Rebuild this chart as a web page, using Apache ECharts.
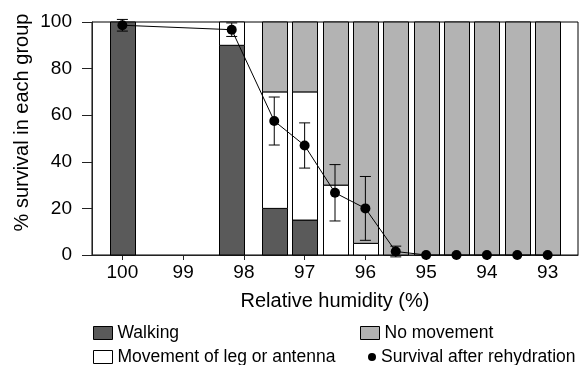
<!DOCTYPE html>
<html><head><meta charset="utf-8">
<script src="https://cdn.jsdelivr.net/npm/echarts@6/dist/echarts.min.js"></script>
<style>html,body{margin:0;padding:0;background:#fff}#c{width:583px;height:365px}</style>
</head><body><div id="c"></div>
<script>
const humidity = [100, 98.2, 97.5, 97, 96.5, 96, 95.5, 95, 94.5, 94, 93.5, 93];
const walking = [100, 90, 20, 15, 0, 0, 0, 0, 0, 0, 0, 0];
const movement = [0, 10, 50, 55, 30, 5, 0, 0, 0, 0, 0, 0];
const noMovement = [0, 0, 30, 30, 70, 95, 100, 100, 100, 100, 100, 100];
const survival = [98.6, 96.7, 57.5, 47, 26.7, 20, 1.5, 0, 0, 0, 0, 0];
const survivalErr = [2.5, 2.9, 10.3, 9.7, 12.1, 13.7, 2.3, 0, 0, 0, 0, 0];
const xTicks = [100, 99, 98, 97, 96, 95, 94, 93];

const FONT = 'Liberation Sans, Arial, sans-serif';
const chart = echarts.init(document.getElementById('c'), null, {renderer: 'canvas'});

// stacked table: [x, base, top]
function stackData(arr, below) {
  return humidity.map((h, i) => {
    const base = below.reduce((s, a) => s + a[i], 0);
    return [h, base, base + arr[i], arr[i]];
  }).filter(d => d[3] > 0);
}
function renderBar(params, api) {
  const x = api.value(0), b = api.value(1), t = api.value(2);
  const p0 = api.coord([x, b]), p1 = api.coord([x, t]);
  const w = 25;
  return {type: 'rect', shape: {x: Math.round(p0[0] - w / 2) + 0.5, y: p1[1], width: w, height: p0[1] - p1[1]},
    style: api.style({stroke: '#000', lineWidth: 1})};
}
function barSeries(name, arr, below, color) {
  return {name, type: 'custom', z: 2, clip: false, encode: {x: 0, y: [1, 2]},
    data: stackData(arr, below), renderItem: renderBar, itemStyle: {color: color, borderColor: '#000', borderWidth: 1}};
}

const legendBase = {
  orient: 'vertical', padding: 0, itemGap: 0,
  textStyle: {fontSize: 17.5, fontFamily: FONT, color: '#000', lineHeight: 20},
  selectedMode: false
};

chart.setOption({
  animation: false,
  backgroundColor: '#fff',
  grid: {left: 92, right: 5, top: 22, bottom: 110, show: true, borderColor: '#000', borderWidth: 1},
  xAxis: {
    type: 'value', min: 92.5, max: 100.5, inverse: true,
    splitLine: {show: false},
    axisLine: {show: true, lineStyle: {color: '#222', width: 1}},
    axisTick: {show: true, customValues: xTicks, length: 5, lineStyle: {color: '#222'}},
    axisLabel: {customValues: xTicks, fontSize: 19, fontFamily: FONT, color: '#000', margin: 8}
  },
  yAxis: {
    type: 'value', min: 0, max: 100, interval: 20,
    splitLine: {show: false},
    axisLine: {show: true, lineStyle: {color: '#222', width: 1}},
    axisTick: {show: true, length: 10, lineStyle: {color: '#222'}},
    axisLabel: {fontSize: 19, fontFamily: FONT, color: '#000', margin: 20}
  },
  legend: [
    Object.assign({}, legendBase, {left: 93, top: 323, itemWidth: 19, itemHeight: 13,
      data: [{name: 'Walking', icon: 'rect'}], itemStyle: {borderColor: '#000', borderWidth: 1}}),
    Object.assign({}, legendBase, {left: 93, top: 347, itemWidth: 19, itemHeight: 13,
      data: [{name: 'Movement of leg or antenna', icon: 'rect'}], itemStyle: {borderColor: '#000', borderWidth: 1}}),
    Object.assign({}, legendBase, {left: 360, top: 323, itemWidth: 19, itemHeight: 13,
      data: [{name: 'No movement', icon: 'rect'}], itemStyle: {borderColor: '#000', borderWidth: 1}}),
    Object.assign({}, legendBase, {left: 368, top: 347, itemWidth: 8, itemHeight: 8,
      data: [{name: 'Survival after rehydration', icon: 'circle'}], itemStyle: {color: '#000'}})
  ],
  graphic: [
    {type: 'text', x: 335, y: 301, style: {text: 'Relative humidity (%)', font: '20px ' + FONT, fill: '#000', textAlign: 'center', textVerticalAlign: 'middle'}},
    {type: 'text', x: 22, y: 122.5, rotation: Math.PI / 2, style: {text: '% survival in each group', font: '20px ' + FONT, fill: '#000', textAlign: 'center', textVerticalAlign: 'middle'}}
  ],
  series: [
    barSeries('Walking', walking, [], '#5a5a5a'),
    barSeries('Movement of leg or antenna', movement, [walking], '#ffffff'),
    barSeries('No movement', noMovement, [walking, movement], '#b3b3b3'),
    {
      name: 'errorbars', type: 'custom', z: 5, clip: false,
      encode: {x: 0, y: [1, 2]},
      data: humidity.map((h, i) => [h, survival[i] - survivalErr[i], survival[i] + survivalErr[i], survivalErr[i]]).filter(d => d[3] > 0),
      renderItem: function (params, api) {
        const x = api.value(0), lo = api.value(1), hi = api.value(2);
        const p1 = api.coord([x, hi]), p2 = api.coord([x, lo]);
        const hw = 5.5, st = {stroke: '#000', lineWidth: 1};
        return {type: 'group', children: [
          {type: 'line', shape: {x1: p1[0], y1: p1[1], x2: p2[0], y2: p2[1]}, style: st},
          {type: 'line', shape: {x1: p1[0] - hw, y1: p1[1], x2: p1[0] + hw, y2: p1[1]}, style: st},
          {type: 'line', shape: {x1: p2[0] - hw, y1: p2[1], x2: p2[0] + hw, y2: p2[1]}, style: st}
        ]};
      }
    },
    {
      name: 'Survival after rehydration', type: 'line', z: 10,
      data: humidity.map((h, i) => [h, survival[i]]),
      symbol: 'circle', symbolSize: 10, showAllSymbol: true,
      lineStyle: {color: '#000', width: 1},
      itemStyle: {color: '#000'}
    }
  ]
});
</script></body></html>
